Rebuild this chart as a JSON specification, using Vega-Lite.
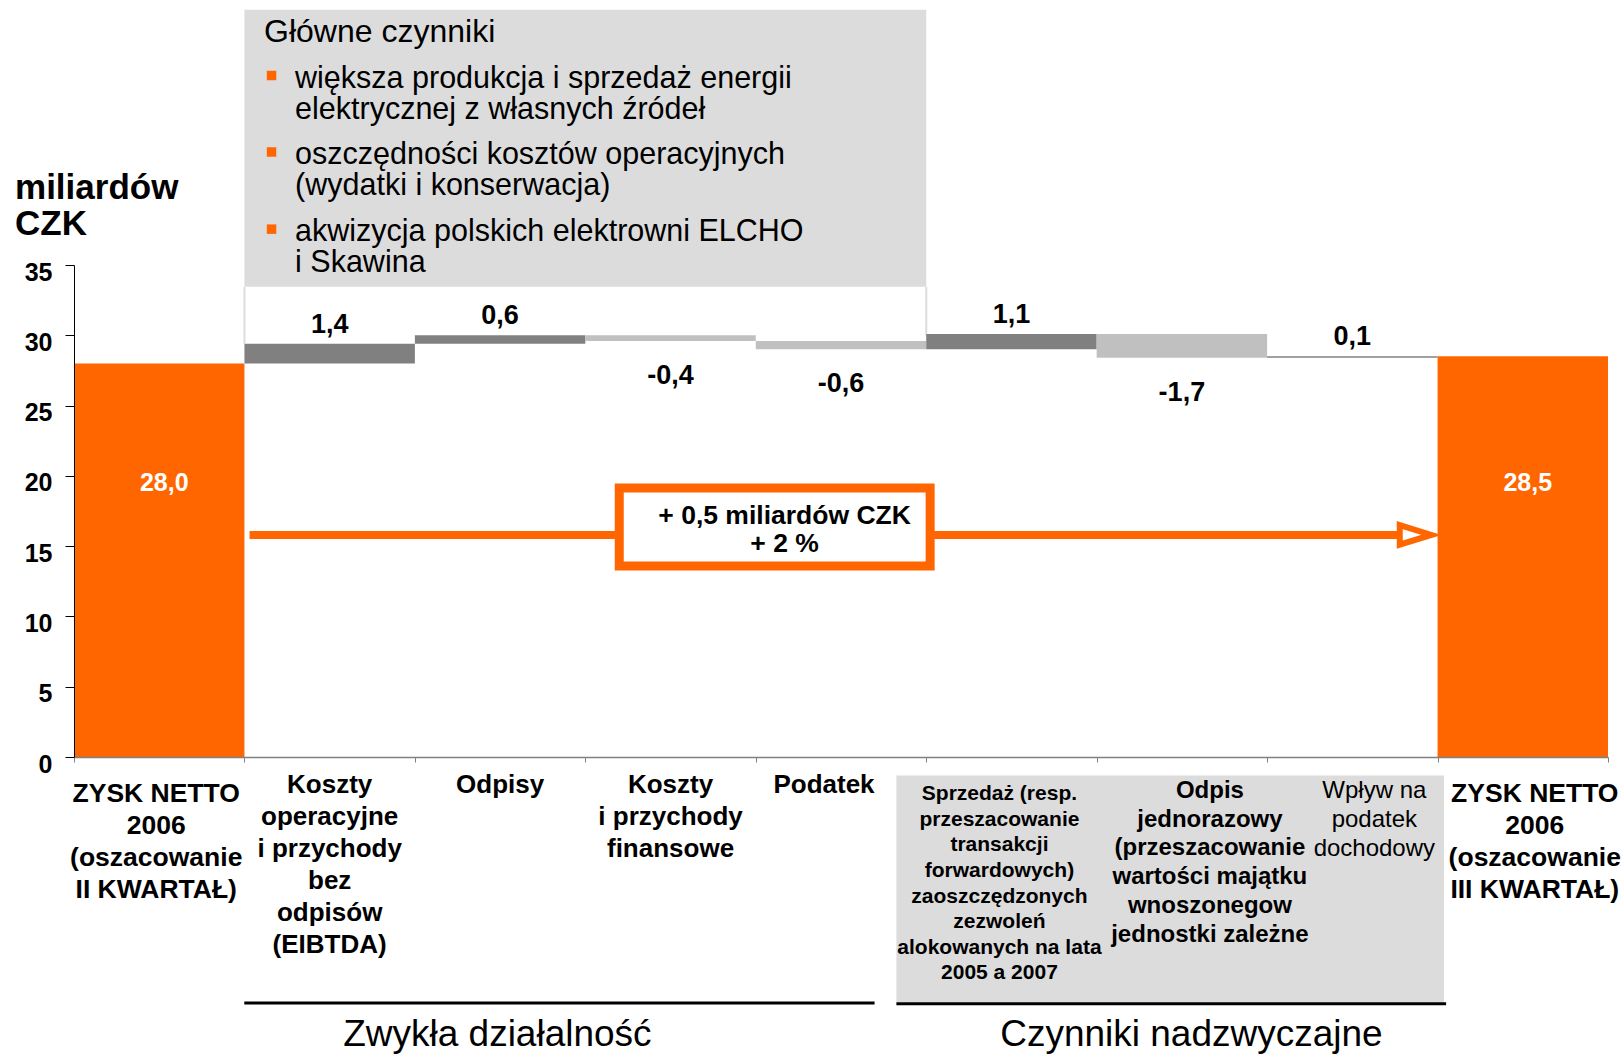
{
  "$schema": "https://vega.github.io/schema/vega-lite/v6.json",
  "width": 1534,
  "height": 492,
  "autosize": {"type": "none"},
  "padding": {"left": 74, "top": 265, "right": 15, "bottom": 297},
  "background": "white",
  "config": {
    "font": "Liberation Sans",
    "view": {"stroke": null},
    "text": {"font": "Liberation Sans"},
    "locale": {"number": {"decimal": ",", "thousands": " ", "grouping": [3], "currency": ["", ""], "minus": "-"}}
  },
  "datasets": {
    "bars": [
      {"cat": "ZYSK NETTO|2006|(oszacowanie|II KWARTAŁ)", "group": "total", "kind": "total", "start": 0, "end": 28.0, "delta": 28.0},
      {"cat": "Koszty|operacyjne|i przychody|bez|odpisów|(EIBTDA)", "group": "Zwykła działalność", "kind": "inc", "start": 28.0, "end": 29.4, "delta": 1.4},
      {"cat": "Odpisy", "group": "Zwykła działalność", "kind": "inc", "start": 29.4, "end": 30.0, "delta": 0.6},
      {"cat": "Koszty|i przychody|finansowe", "group": "Zwykła działalność", "kind": "dec", "start": 30.0, "end": 29.6, "delta": -0.4},
      {"cat": "Podatek", "group": "Zwykła działalność", "kind": "dec", "start": 29.6, "end": 29.0, "delta": -0.6},
      {"cat": "Sprzedaż (resp.|przeszacowanie|transakcji|forwardowych)|zaoszczędzonych|zezwoleń|alokowanych na lata|2005 a 2007", "group": "Czynniki nadzwyczajne", "kind": "inc", "start": 29.0, "end": 30.1, "delta": 1.1},
      {"cat": "Odpis|jednorazowy|(przeszacowanie|wartości majątku|wnoszonegow|jednostki zależne", "group": "Czynniki nadzwyczajne", "kind": "dec", "start": 30.1, "end": 28.4, "delta": -1.7},
      {"cat": "Wpływ na|podatek|dochodowy", "group": "Czynniki nadzwyczajne", "kind": "inc", "start": 28.4, "end": 28.5, "delta": 0.1},
      {"cat": "ZYSK NETTO|2006|(oszacowanie|III KWARTAŁ)", "group": "total", "kind": "total", "start": 0, "end": 28.5, "delta": 28.5}
    ],
    "boxgray": [{"x": 1, "x2": 5, "y": 33.45, "y2": 53.15}],
    "boxsides": [{"x": 1, "y": 33.45, "y2": 29.4}, {"x": 5, "y": 33.45, "y2": 30.0}],
    "labelbg": [{"x": 4.825, "x2": 8.038, "y": -1.32, "y2": -17.46}],
    "boxtitle": [{"x": 1.115, "y": 51.58, "text": "Główne czynniki"}],
    "bullets": [{"x": 1.159, "y": 48.48}, {"x": 1.159, "y": 43.04}, {"x": 1.159, "y": 37.55}],
    "bullettexts": [
      {"x": 1.297, "y": 48.26, "text": "większa produkcja i sprzedaż energii\nelektrycznej z własnych źródeł"},
      {"x": 1.297, "y": 42.80, "text": "oszczędności kosztów operacyjnych\n(wydatki i konserwacja)"},
      {"x": 1.297, "y": 37.35, "text": "akwizycja polskich elektrowni ELCHO\ni Skawina"}
    ],
    "arrowline": [{"x": 1.03, "x2": 7.78, "y": 15.8}],
    "arrowhead": [{"x": 7.871, "y": 15.8}],
    "callout": [{"x": 3.199, "x2": 5.023, "y": 13.59, "y2": 19.13}],
    "callouttext": [{"x": 4.169, "y": 17.17, "text": "+ 0,5 miliardów CZK\n+ 2 %"}],
    "underlines": [{"x": 0.999, "x2": 4.697, "y": -17.5}, {"x": 4.825, "x2": 8.05, "y": -17.55}],
    "grouplabels": [{"x": 2.484, "y": -19.75, "text": "Zwykła działalność"}, {"x": 6.556, "y": -19.75, "text": "Czynniki nadzwyczajne"}],
    "unitlabel": [{"x": -0.346, "y": 39.69, "text": "miliardów\nCZK"}]
  },
  "layer": [
    {
      "layer": [
        {
          "data": {"name": "boxgray"},
          "mark": {"type": "rect", "color": "#DCDCDC"},
          "encoding": {
            "x": {"field": "x", "type": "quantitative", "scale": {"domain": [0, 9], "nice": false, "zero": false}, "axis": null},
            "x2": {"field": "x2"},
            "y": {"field": "y", "type": "quantitative", "title": null},
            "y2": {"field": "y2"}
          }
        },
        {
          "data": {"name": "boxsides"},
          "mark": {"type": "rule", "color": "#DCDCDC", "strokeWidth": 2},
          "encoding": {
            "x": {"field": "x", "type": "quantitative", "scale": {"domain": [0, 9], "nice": false, "zero": false}, "axis": null},
            "y": {"field": "y", "type": "quantitative", "title": null},
            "y2": {"field": "y2"}
          }
        },
        {
          "data": {"name": "labelbg"},
          "mark": {"type": "rect", "color": "#DCDCDC"},
          "encoding": {
            "x": {"field": "x", "type": "quantitative", "scale": {"domain": [0, 9], "nice": false, "zero": false}, "axis": null},
            "x2": {"field": "x2"},
            "y": {"field": "y", "type": "quantitative", "title": null},
            "y2": {"field": "y2"}
          }
        }
      ]
    },
    {
      "layer": [
        {
          "data": {"name": "bars"},
          "mark": {"type": "bar"},
          "encoding": {
            "x": {"field": "cat", "type": "nominal", "sort": null, "title": null, "scale": {"paddingInner": 0, "paddingOuter": 0},
              "axis": {"labels": false, "title": null, "tickBand": "extent", "domainColor": "#808080", "domainWidth": 1.5, "tickColor": "#808080", "tickSize": 5, "tickWidth": 1, "zindex": 1}},
            "y": {"field": "start", "type": "quantitative", "title": null, "scale": {"domain": [0, 35], "nice": false, "zero": false},
              "axis": {"values": [0, 5, 10, 15, 20, 25, 30, 35], "title": null, "grid": false, "domainColor": "#000000", "tickColor": "#000000", "tickSize": 9, "labelFontSize": 25, "labelFontWeight": "bold", "labelColor": "#000000", "labelPadding": 13, "labelOffset": 7, "labelFont": "Liberation Sans", "zindex": 1}},
            "y2": {"field": "end"},
            "color": {"field": "kind", "type": "nominal", "scale": {"domain": ["total", "inc", "dec"], "range": ["#FF6600", "#808080", "#C0C0C0"]}, "legend": null}
          }
        },
        {
          "data": {"name": "bars"},
          "transform": [{"filter": "datum.kind == 'total'"}],
          "mark": {"type": "text", "color": "#FFFFFF", "fontSize": 25, "fontWeight": "bold", "baseline": "middle", "dx": 5},
          "encoding": {
            "x": {"field": "cat", "type": "nominal", "sort": null, "title": null},
            "y": {"datum": 19.5, "type": "quantitative", "title": null},
            "text": {"field": "end", "type": "quantitative", "format": ".1f"}
          }
        },
        {
          "data": {"name": "bars"},
          "transform": [{"filter": "datum.kind == 'inc'"}],
          "mark": {"type": "text", "color": "#000000", "fontSize": 27, "fontWeight": "bold", "baseline": "middle", "dy": -19},
          "encoding": {
            "x": {"field": "cat", "type": "nominal", "sort": null, "title": null},
            "y": {"field": "end", "type": "quantitative", "title": null},
            "text": {"field": "delta", "type": "quantitative", "format": ".1f"}
          }
        },
        {
          "data": {"name": "bars"},
          "transform": [{"filter": "datum.kind == 'dec'"}],
          "mark": {"type": "text", "color": "#000000", "fontSize": 27, "fontWeight": "bold", "baseline": "middle", "dy": 35},
          "encoding": {
            "x": {"field": "cat", "type": "nominal", "sort": null, "title": null},
            "y": {"field": "end", "type": "quantitative", "title": null},
            "text": {"field": "delta", "type": "quantitative", "format": ".1f"}
          }
        },
        {
          "data": {"name": "bars"},
          "transform": [{"filter": "datum.group == 'total' && indexof(datum.cat, 'III') < 0"}],
          "mark": {"type": "text", "color": "#000000", "fontSize": 26.5, "fontWeight": "bold", "baseline": "top", "align": "center", "lineBreak": "|", "lineHeight": 32, "dx": -3},
          "encoding": {
            "x": {"field": "cat", "type": "nominal", "sort": null, "title": null},
            "y": {"datum": -1.7, "type": "quantitative", "title": null},
            "text": {"field": "cat", "type": "nominal"}
          }
        },
        {
          "data": {"name": "bars"},
          "transform": [{"filter": "datum.group == 'total' && indexof(datum.cat, 'III') >= 0"}],
          "mark": {"type": "text", "color": "#000000", "fontSize": 26.5, "fontWeight": "bold", "baseline": "top", "align": "center", "lineBreak": "|", "lineHeight": 32, "dx": 12},
          "encoding": {
            "x": {"field": "cat", "type": "nominal", "sort": null, "title": null},
            "y": {"datum": -1.7, "type": "quantitative", "title": null},
            "text": {"field": "cat", "type": "nominal"}
          }
        },
        {
          "data": {"name": "bars"},
          "transform": [{"filter": "datum.group == 'Zwykła działalność' && datum.cat != 'Podatek'"}],
          "mark": {"type": "text", "color": "#000000", "fontSize": 26, "fontWeight": "bold", "baseline": "top", "align": "center", "lineBreak": "|", "lineHeight": 32},
          "encoding": {
            "x": {"field": "cat", "type": "nominal", "sort": null, "title": null},
            "y": {"datum": -1.04, "type": "quantitative", "title": null},
            "text": {"field": "cat", "type": "nominal"}
          }
        },
        {
          "data": {"name": "bars"},
          "transform": [{"filter": "datum.cat == 'Podatek'"}],
          "mark": {"type": "text", "color": "#000000", "fontSize": 26, "fontWeight": "bold", "baseline": "top", "align": "center", "lineBreak": "|", "lineHeight": 32, "dx": -17},
          "encoding": {
            "x": {"field": "cat", "type": "nominal", "sort": null, "title": null},
            "y": {"datum": -1.04, "type": "quantitative", "title": null},
            "text": {"field": "cat", "type": "nominal"}
          }
        },
        {
          "data": {"name": "bars"},
          "transform": [{"filter": "indexof(datum.cat, 'Sprzedaż') == 0"}],
          "mark": {"type": "text", "color": "#000000", "fontSize": 21, "fontWeight": "bold", "baseline": "top", "align": "center", "lineBreak": "|", "lineHeight": 25.6, "dx": -12},
          "encoding": {
            "x": {"field": "cat", "type": "nominal", "sort": null, "title": null},
            "y": {"datum": -1.86, "type": "quantitative", "title": null},
            "text": {"field": "cat", "type": "nominal"}
          }
        },
        {
          "data": {"name": "bars"},
          "transform": [{"filter": "indexof(datum.cat, 'Odpis|') == 0"}],
          "mark": {"type": "text", "color": "#000000", "fontSize": 24, "fontWeight": "bold", "baseline": "top", "align": "center", "lineBreak": "|", "lineHeight": 28.8, "dx": 28},
          "encoding": {
            "x": {"field": "cat", "type": "nominal", "sort": null, "title": null},
            "y": {"datum": -1.55, "type": "quantitative", "title": null},
            "text": {"field": "cat", "type": "nominal"}
          }
        },
        {
          "data": {"name": "bars"},
          "transform": [{"filter": "indexof(datum.cat, 'Wpływ') == 0"}],
          "mark": {"type": "text", "color": "#000000", "fontSize": 24, "fontWeight": "normal", "baseline": "top", "align": "center", "lineBreak": "|", "lineHeight": 29, "dx": 22},
          "encoding": {
            "x": {"field": "cat", "type": "nominal", "sort": null, "title": null},
            "y": {"datum": -1.55, "type": "quantitative", "title": null},
            "text": {"field": "cat", "type": "nominal"}
          }
        }
      ]
    },
    {
      "layer": [
        {
          "data": {"name": "boxtitle"},
          "mark": {"type": "text", "color": "#000000", "fontSize": 32, "align": "left", "baseline": "middle"},
          "encoding": {
            "x": {"field": "x", "type": "quantitative", "scale": {"domain": [0, 9], "nice": false, "zero": false}, "axis": null},
            "y": {"field": "y", "type": "quantitative", "title": null},
            "text": {"field": "text", "type": "nominal"}
          }
        },
        {
          "data": {"name": "bullets"},
          "mark": {"type": "point", "shape": "square", "filled": true, "color": "#FF6600", "opacity": 1, "size": 90},
          "encoding": {
            "x": {"field": "x", "type": "quantitative", "scale": {"domain": [0, 9], "nice": false, "zero": false}, "axis": null},
            "y": {"field": "y", "type": "quantitative", "title": null}
          }
        },
        {
          "data": {"name": "bullettexts"},
          "mark": {"type": "text", "color": "#000000", "fontSize": 30.5, "align": "left", "baseline": "middle", "lineBreak": "\n", "lineHeight": 31},
          "encoding": {
            "x": {"field": "x", "type": "quantitative", "scale": {"domain": [0, 9], "nice": false, "zero": false}, "axis": null},
            "y": {"field": "y", "type": "quantitative", "title": null},
            "text": {"field": "text", "type": "nominal"}
          }
        },
        {
          "data": {"name": "arrowline"},
          "mark": {"type": "rule", "color": "#FF6600", "strokeWidth": 8},
          "encoding": {
            "x": {"field": "x", "type": "quantitative", "scale": {"domain": [0, 9], "nice": false, "zero": false}, "axis": null},
            "x2": {"field": "x2"},
            "y": {"field": "y", "type": "quantitative", "title": null}
          }
        },
        {
          "data": {"name": "arrowhead"},
          "mark": {"type": "point", "shape": "M-1,-0.62L1,0L-1,0.62Z", "filled": true, "fill": "#FFFFFF", "stroke": "#FF6600", "strokeWidth": 6, "opacity": 1, "fillOpacity": 1, "size": 1000},
          "encoding": {
            "x": {"field": "x", "type": "quantitative", "scale": {"domain": [0, 9], "nice": false, "zero": false}, "axis": null},
            "y": {"field": "y", "type": "quantitative", "title": null}
          }
        },
        {
          "data": {"name": "callout"},
          "mark": {"type": "rect", "fill": "#FFFFFF", "stroke": "#FF6600", "strokeWidth": 9},
          "encoding": {
            "x": {"field": "x", "type": "quantitative", "scale": {"domain": [0, 9], "nice": false, "zero": false}, "axis": null},
            "x2": {"field": "x2"},
            "y": {"field": "y", "type": "quantitative", "title": null},
            "y2": {"field": "y2"}
          }
        },
        {
          "data": {"name": "callouttext"},
          "mark": {"type": "text", "color": "#000000", "fontSize": 26.5, "fontWeight": "bold", "align": "center", "baseline": "middle", "lineBreak": "\n", "lineHeight": 28},
          "encoding": {
            "x": {"field": "x", "type": "quantitative", "scale": {"domain": [0, 9], "nice": false, "zero": false}, "axis": null},
            "y": {"field": "y", "type": "quantitative", "title": null},
            "text": {"field": "text", "type": "nominal"}
          }
        },
        {
          "data": {"name": "underlines"},
          "mark": {"type": "rule", "color": "#000000", "strokeWidth": 3},
          "encoding": {
            "x": {"field": "x", "type": "quantitative", "scale": {"domain": [0, 9], "nice": false, "zero": false}, "axis": null},
            "x2": {"field": "x2"},
            "y": {"field": "y", "type": "quantitative", "title": null}
          }
        },
        {
          "data": {"name": "grouplabels"},
          "mark": {"type": "text", "color": "#000000", "fontSize": 37, "align": "center", "baseline": "middle"},
          "encoding": {
            "x": {"field": "x", "type": "quantitative", "scale": {"domain": [0, 9], "nice": false, "zero": false}, "axis": null},
            "y": {"field": "y", "type": "quantitative", "title": null},
            "text": {"field": "text", "type": "nominal"}
          }
        },
        {
          "data": {"name": "unitlabel"},
          "mark": {"type": "text", "color": "#000000", "fontSize": 35, "fontWeight": "bold", "align": "left", "baseline": "alphabetic", "lineBreak": "\n", "lineHeight": 36},
          "encoding": {
            "x": {"field": "x", "type": "quantitative", "scale": {"domain": [0, 9], "nice": false, "zero": false}, "axis": null},
            "y": {"field": "y", "type": "quantitative", "title": null},
            "text": {"field": "text", "type": "nominal"}
          }
        }
      ]
    }
  ],
  "resolve": {"scale": {"x": "independent"}}
}
